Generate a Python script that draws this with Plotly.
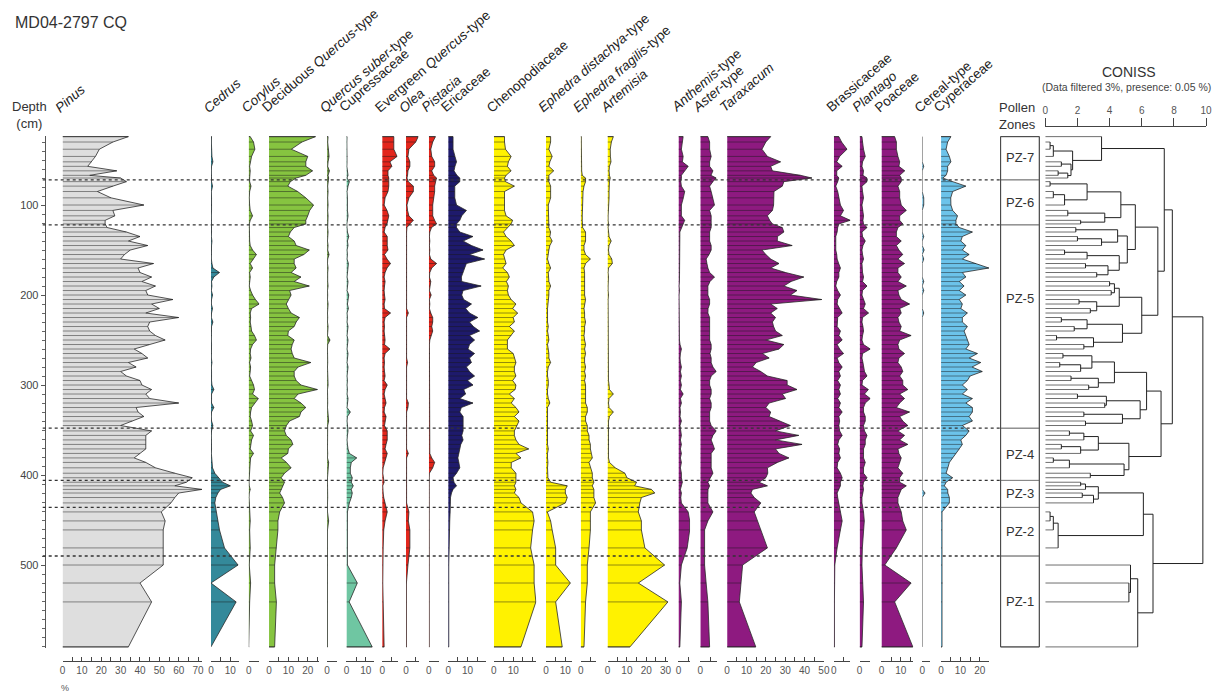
import plotly.graph_objects as go

W, H = 1223, 694
S = 1.95  # pixels per percent on every taxon axis


def fx(px):
    return px / W


def fy(py):
    return 1 - py / H


# ---------------- data ----------------
depth = [24, 30, 38, 46, 52, 57, 62, 67, 70,
         74, 79, 85, 92, 100, 106, 112, 117, 121,
         125, 130, 135, 140, 145, 150, 155, 160, 165, 170, 175, 180, 185, 190, 195,
         200, 205, 210, 215, 220, 225, 230, 235, 240, 245, 250, 255, 260, 265, 270,
         275, 280, 285, 290, 295, 300, 305, 310, 315, 320, 325, 330, 335, 340, 345,
         351, 356, 361, 366, 371, 376, 381, 386, 392, 398, 403,
         408, 412, 416, 420, 425, 431,
         441, 451, 461, 481,
         500, 520, 541, 591]

pinus = [34, 26, 19, 17, 15, 13, 28, 14, 30,
         33, 26, 18, 25, 42, 26, 27, 22, 22,
         23, 33, 40, 34, 44, 35, 32, 30, 47, 39, 40, 46, 41, 48, 43,
         44, 57, 46, 50, 43, 60, 45, 44, 45, 48, 53, 45, 37, 41, 44,
         34, 38, 30, 33, 40, 41, 46, 43, 45, 60, 38, 39, 42, 36, 30,
         46, 43, 43, 43, 43, 40, 37, 43, 48, 58, 67,
         64, 58, 72, 60, 58, 56,
         51, 53, 52, 52,
         52, 40, 46, 34]
cedrus = [0.3, 0.2, 0.3, 0.5, 1.0, 0.3, 0.2, 0.3, 0.5,
          0.3, 0.8, 0.2, 0.3, 0.5, 0.3, 0.2, 0.3, 0.2,
          0.2, 0.3, 0.2, 0.5, 0.3, 0.2, 0.3, 0.2, 0.5, 1.0, 4.4, 1.5, 0.3, 0.5, 0.2,
          0.8, 0.3, 0.2, 0.8, 0.3, 0.2, 1.0, 0.3, 0.2, 0.3, 0.2, 0.3, 0.2, 0.3, 0.2,
          0.5, 0.2, 0.3, 0.2, 0.3, 0.5, 1.5, 0.3, 0.2, 0.3, 1.5, 0.3, 0.2, 0.3, 1.0,
          0.3, 0.2, 0.3, 0.2, 0.3, 0.2, 0.3, 0.5, 0.8, 2.0, 4.0,
          6, 10, 5, 3.6, 2.5, 2,
          2.7, 3.6, 4.4, 7,
          14, 0, 13, 0]
corylus = [0.8, 2.5, 3.2, 1.5, 0.8, 0.5, 0.8, 0.5, 0.5,
           0.5, 1.2, 0.5, 0.3, 0.5, 0.8, 2.0, 0.8, 0.3,
           0.3, 0.5, 0.3, 0.5, 0.8, 2.0, 4.0, 2.5, 0.8, 2.0, 0.5, 0.8, 0.5, 0.3, 1.0,
           2.0, 3.5, 5.4, 1.5, 0.8, 1.0, 0.8, 1.2, 1.5, 3.0, 4.0, 2.0, 1.0, 0.8, 1.2,
           0.5, 1.0, 0.8, 0.5, 1.5, 2.5, 3.0, 2.0, 5.0, 3.0, 1.5, 1.0, 0.8, 1.5, 2.0,
           1.0, 2.5, 1.5, 1.0, 0.8, 2.5, 1.0, 0.8, 0.5, 0.3, 0.3,
           0.2, 0.3, 0.8, 0.3, 0.2, 0.3,
           0.3, 0.8, 0.5, 0.8,
           0.3, 1.0, 0.5, 0.3]
dec_quercus = [24, 17, 11.5, 20, 19, 19, 22.5, 19, 14,
               11, 9.7, 14.8, 19, 23, 21, 20, 19, 19,
               13, 11, 10, 13, 14, 20.8, 18, 13, 13, 14, 11.4, 16.5, 13, 20.8, 10.6,
               11.4, 10, 8.9, 10, 11.4, 15.7, 14, 13, 10, 9.7, 13, 12, 11.4, 12, 13,
               21.6, 15, 13, 13, 14, 16.5, 25, 15, 13, 16.5, 19, 16.5, 15.7, 10.6, 9,
               8, 8.9, 11.4, 12.3, 10, 9.7, 6.3, 9, 11.4, 8, 6.3,
               8, 7.2, 6.5, 5.5, 7, 8,
               5.5, 4.6, 4.6, 3.8,
               2.9, 2.9, 3.8, 2.9]
q_suber = [0.5, 0.3, 0.8, 1.0, 0.5, 0.3, 1.2, 0.5, 0.8,
           0.5, 0.3, 0.5, 0.3, 0.5, 0.3, 0.5, 0.3, 0.2,
           0.3, 0.5, 0.3, 0.2, 0.5, 0.3, 1.0, 0.3, 0.2, 0.5, 0.3, 0.2, 0.3, 0.5, 0.2,
           0.3, 0.2, 0.5, 0.3, 0.2, 0.3, 0.2, 0.5, 0.3, 0.2, 1.5, 0.3, 0.2, 0.3, 0.2,
           0.3, 0.2, 0.3, 0.2, 0.3, 0.5, 0.2, 0.3, 0.2, 0.3, 0.2, 0.3, 0.5, 0.8, 0.3,
           0.2, 0.3, 0.2, 0.3, 0.2, 0.3, 0.2, 0.8, 0.5, 0.3, 0.2,
           0.2, 0.3, 0.2, 0.2, 0.3, 0.2,
           0.2, 0.8, 0.2, 0.2,
           0.2, 0.2, 0.2, 0.2]
cupressaceae = [0.3, 0.2, 0.3, 0.5, 0.3, 0.2, 0.5, 0.8, 0.3,
                1.5, 0.8, 0.3, 0.5, 0.3, 0.5, 0.8, 0.3, 0.2,
                0.3, 0.5, 1.2, 0.5, 0.8, 0.3, 0.5, 0.3, 1.0, 0.8, 0.5, 0.3, 0.8, 0.5, 0.3,
                1.2, 0.8, 0.5, 1.0, 0.3, 0.5, 0.3, 0.8, 0.5, 0.3, 0.8, 0.5, 0.3, 0.8, 0.5,
                0.3, 0.8, 0.5, 0.3, 0.5, 0.3, 0.5, 0.3, 0.8, 0.5, 0.3, 2.0, 0.5, 0.3, 0.5,
                0.8, 0.5, 0.3, 0.5, 0.8, 1.5, 5.3, 2.5, 2.0, 2.0, 3.0,
                2.5, 3.5, 2.5, 3.0, 2.5, 1.5,
                0.5, 0.5, 0.3, 0.5,
                0.5, 5.6, 1.4, 13.3]
evergreen_q = [6, 6, 6, 7.7, 4, 5, 3, 3, 3.4,
               3.4, 3.4, 3.0, 1.5, 1.0, 2.5, 3.4, 3.0, 2.5,
               1.5, 1.0, 2.6, 2.6, 2.6, 3.0, 1.2, 2.5, 4.3, 2.5, 1.5, 1.0, 1.5, 1.2, 1.0,
               1.2, 1.5, 1.0, 1.2, 4.3, 1.5, 1.0, 1.2, 1.0, 1.2, 1.5, 1.2, 4.0, 1.5, 1.0,
               1.2, 1.0, 1.2, 1.5, 1.0, 2.6, 1.5, 1.0, 1.5, 2.0, 1.2, 1.0, 2.0, 1.5, 1.2,
               2.6, 2.6, 2.6, 2.0, 1.5, 2.6, 2.0, 1.0, 0.5, 0.3, 0.5,
               1.0, 0.3, 0.3, 0.5, 0.8, 1.5,
               2.6, 1.5, 0.8, 0.5,
               0.3, 0.3, 0.5, 1.0]
olea = [6.3, 5, 1.5, 1.0, 2, 2, 1.0, 0.8, 0.5,
        1.2, 3.8, 3.8, 1.5, 0.5, 0.8, 1.5, 3.8, 2,
        0.5, 0.3, 0.3, 0.3, 0.5, 0.3, 0.3, 0.3, 0.3, 0.3, 0.3, 0.5, 0.3, 0.3, 0.3,
        0.3, 0.3, 0.3, 0.3, 1.2, 0.3, 0.3, 0.3, 0.3, 0.3, 0.3, 0.3, 0.5, 0.3, 0.3,
        0.8, 0.3, 0.3, 0.3, 0.3, 0.3, 0.3, 0.5, 0.3, 1.2, 1.0, 0.3, 0.3, 0.3, 0.3,
        0.3, 0.3, 0.3, 0.3, 0.3, 1.2, 0.3, 0.3, 0.3, 0.3, 0.3,
        0.3, 0.2, 0.2, 0.2, 0.2, 0.3,
        1.5, 1.2, 2.0, 2.0,
        1.0, 0.2, 0.2, 0.2]
pistacia = [3.4, 2.0, 1.0, 1.5, 3.0, 3.0, 1.5, 2.5, 4.0,
            3.5, 3.0, 3.0, 2.5, 2.0, 2.0, 2.0, 3.0, 4.0,
            1.4, 0.5, 0.3, 0.5, 0.3, 0.5, 0.3, 1.0, 4.0, 1.5, 0.5, 0.3, 1.0, 0.5, 0.3,
            1.2, 0.3, 0.5, 0.3, 1.0, 2.0, 2.0, 1.5, 2.0, 1.2, 0.5, 0.3, 0.3, 0.5, 0.3,
            0.3, 0.3, 0.3, 0.5, 0.3, 0.3, 0.3, 0.3, 0.3, 0.5, 0.3, 0.3, 0.3, 0.3, 0.3,
            0.3, 0.3, 0.3, 0.3, 0.3, 0.5, 1.5, 3.0, 2.0, 0.3, 0.2,
            0.2, 0.2, 0.2, 0.2, 0.2, 0.2,
            0.2, 0.2, 0.2, 0.2,
            0.2, 0.2, 0.2, 0.2]
ericaceae = [2.5, 2.5, 2.5, 3.5, 4.3, 3.5, 3.0, 4.5, 6,
             6, 3.4, 3.4, 3.4, 4.3, 9.4, 7, 6, 4.3,
             4.3, 6, 12.8, 7.7, 12, 18, 11, 18.8, 9.4, 8.5, 7.7, 6.8, 7, 17, 7.7,
             7, 8, 12, 9, 11, 15.3, 11, 13, 16.2, 11, 13.6, 11, 10.2, 13.6, 11,
             12, 9.4, 11, 13.6, 10, 12.8, 8, 9, 6, 12.8, 6.8, 6, 7.7, 7.7, 7.7,
             7.7, 7, 7.7, 6.5, 6, 5.5, 5, 5.5, 6, 4.3, 2.5,
             3, 4.3, 2.5, 1.7, 1.2, 1.0,
             1.0, 0.8, 0.8, 0.5,
             0.3, 0.3, 0.3, 0.3]
chenopodiaceae = [5.5, 5.5, 6, 8.9, 7.5, 7, 8.9, 6.3, 5.5,
                  6, 10.6, 5.5, 5.5, 5.5, 5.5, 6.3, 9.7, 8.9,
                  7, 5, 6.3, 8.9, 10.6, 6.3, 5, 5.5, 6.3, 4.6, 7, 8, 6.5, 7.5, 7,
                  7.5, 8.9, 11.4, 9.7, 12.3, 10, 10.6, 8, 10.6, 9, 7, 7, 7, 10, 10.6,
                  11.4, 10.6, 10.6, 11.4, 9.7, 11.4, 11, 8, 10.6, 9, 11.4, 13, 10.6, 13, 12,
                  10.6, 10.6, 11.4, 13, 18, 11.4, 14, 9, 9, 11.4, 11.4,
                  11.4, 10.6, 11.4, 10.6, 13, 14,
                  20, 20.8, 20, 19,
                  20.8, 20.8, 21.7, 14]
e_distachya = [2.4, 2.4, 1.5, 3.2, 2, 1.5, 4, 1.5, 1.5,
               1.5, 2.4, 2.4, 2.4, 1.2, 1.2, 1.2, 1.2, 1.5,
               1.5, 2.4, 2, 3.2, 2, 1.5, 1.2, 0.8, 1.5, 2.4, 1.2, 1.2, 1.5, 2.4, 1.5,
               1.5, 1.2, 0.8, 0.8, 0.8, 0.8, 0.8, 1.2, 0.8, 1.2, 1.5, 0.8, 1.2, 1.5, 1.5,
               2.4, 1.2, 0.8, 0.8, 1.2, 1.2, 0.8, 0.8, 1.2, 2.0, 0.8, 0.8, 0.8, 1.0, 0.8,
               0.8, 1.0, 0.8, 0.8, 1.2, 0.8, 0.8, 1.0, 0.8, 0.8, 1.0,
               2.4, 11, 10, 10, 11, 10,
               0.7, 2.4, 3.2, 5,
               5, 12.6, 5, 8.4]
e_fragilis = [0.3, 0.3, 0.3, 0.3, 0.5, 0.5, 0.5, 0.8, 2.5,
              2.5, 1.7, 1.2, 1.0, 1.0, 0.8, 0.8, 0.8, 0.8,
              1.0, 2.5, 2.5, 2.5, 1.7, 1.7, 2.5, 5, 2.5, 1.7, 2, 2, 2, 2, 1.7,
              2, 2.5, 2, 1.7, 2, 2, 2.5, 2, 2, 1.7, 2, 2.5, 2, 2.5, 2,
              2, 2.5, 2, 2.5, 2, 2.5, 2.5, 2.5, 2.5, 2.5, 3.4, 3.4, 2.5, 2.5, 3.4,
              3.4, 4.3, 4.3, 5, 5, 5.5, 6, 4.3, 5, 6, 6,
              6.8, 6, 6.8, 6.8, 6.8, 7.7,
              5, 5, 5, 4.3,
              3.4, 3.4, 2.5, 1.7]
artemisia = [3, 2, 1.4, 1.5, 1.8, 1.0, 0.8, 1.0, 1.4,
             1.0, 0.8, 0.8, 0.8, 0.5, 0.5, 0.3, 0.3, 0.5,
             0.3, 0.5, 0.8, 1.9, 0.8, 0.5, 0.8, 2.2, 2.5, 0.5, 0.3, 0.5, 0.3, 0.3, 0.3,
             0.5, 0.3, 0.3, 0.3, 0.3, 0.3, 0.3, 0.5, 0.3, 0.3, 0.3, 0.3, 0.3, 0.5, 0.3,
             0.3, 0.3, 0.5, 0.3, 0.5, 0.8, 1.0, 3.0, 0.8, 0.5, 0.8, 3.0, 1.0, 0.5, 0.5,
             0.5, 0.5, 0.8, 0.8, 0.5, 0.5, 0.5, 1.0, 4.0, 9, 10,
             15, 14, 22.7, 24.4, 17.5, 16.7,
             15.9, 17.5, 17.5, 19.3,
             29.5, 15.9, 31.2, 11.6]
anthemis = [2.4, 2.0, 1.5, 2.4, 2.0, 5, 3, 1.5, 1.5,
            1.2, 1.5, 3.2, 2.5, 1.5, 1.5, 1.5, 3.2, 2.4,
            1.5, 0.7, 0.7, 0.7, 0.5, 0.7, 0.5, 0.5, 0.7, 0.5, 0.7, 0.5, 0.5, 0.3, 0.5,
            0.3, 0.3, 0.3, 0.5, 0.3, 0.3, 0.5, 0.3, 0.5, 0.3, 0.5, 0.8, 1.5, 1.0, 0.8,
            1.0, 1.5, 1.0, 1.5, 1.0, 1.5, 1.0, 2.4, 1.0, 1.5, 0.8, 1.0, 0.8, 1.5, 0.8,
            1.0, 1.5, 1.0, 1.5, 1.0, 1.5, 1.0, 1.5, 1.0, 1.5, 1.5,
            2.0, 1.5, 1.0, 1.5, 1.2, 1.5,
            5, 5.8, 5.8, 4.5,
            1.5, 0.7, 1.5, 0.7]
aster = [3.9, 4.8, 4.8, 5.6, 4.8, 4.8, 6.5, 5.5, 8.2,
         6.5, 4.8, 5.6, 6.5, 7.3, 4.8, 5.6, 5.6, 5.6,
         5.6, 4.8, 4.8, 4.8, 5.6, 5.6, 4.5, 3.0, 3.4, 3.9, 4.8, 7.3, 5.0, 3.9, 3.9,
         3.9, 4.8, 4.8, 4.0, 3.9, 4.8, 4.8, 4.8, 4.8, 4.8, 4.8, 5.6, 5.6, 5.0, 5.6,
         5.6, 6.5, 8.2, 5.6, 4.8, 4.8, 5.6, 5.6, 4.8, 5.6, 5.6, 4.8, 4.8, 4.8, 5.6,
         8.2, 6.5, 5.6, 6.5, 7.3, 5.6, 5.6, 5.6, 5.6, 6.5, 5.0,
         3.9, 4.8, 4.0, 3.9, 3.9, 3.9,
         6.5, 3.9, 2.2, 2.2,
         2.2, 3.0, 3.9, 4.8]
taraxacum = [22.5, 20, 18, 20.8, 27.6, 22.5, 23.4, 37.9, 43.8,
             29.3, 28.5, 24.2, 24, 24, 23.4, 20.8, 22, 23.4,
             28.5, 29.3, 26, 25.9, 33.6, 18, 20, 22.5, 26.8, 22.5, 30.2, 39.6, 33, 29.3, 36.1,
             32.7, 48.9, 22.5, 25.9, 22.5, 25, 23.4, 24, 25, 28.5, 20, 29.3, 26.8, 18.2, 21.7,
             15, 13.1, 17.4, 20.8, 31, 31, 36.1, 28.5, 30.2, 21.7, 20, 22.5, 21.7, 27, 32.7,
             25, 37, 25, 38.7, 25, 26.8, 31.9, 26, 20.8, 21, 20,
             16.5, 20.8, 13.1, 12.3, 14, 17.4,
             14, 15.7, 17.4, 20.8,
             8, 7.2, 6.3, 14.8]
brassicaceae = [2.6, 4, 6.8, 3, 1.5, 4.3, 1.5, 1.5, 2.6,
                2.0, 1.0, 2.0, 2.6, 3.4, 5, 3.4, 8.5, 2.6,
                2.0, 1.7, 1.0, 1.0, 1.0, 1.0, 1.5, 1.7, 2.5, 3.4, 2.6, 2.6, 1.5, 1.0, 2.0,
                3.4, 2.0, 1.7, 3.0, 4.3, 2.0, 1.7, 1.7, 3.4, 2.6, 4.3, 1.7, 3.0, 5.0, 1.7,
                2.6, 4.3, 2.6, 3.4, 2.0, 3.4, 2.6, 3.4, 2.0, 3.4, 2.6, 4.3, 2.6, 3.0, 2.6,
                3.0, 4.3, 2.6, 2.0, 3.0, 2.6, 3.4, 2.0, 1.7, 3.4, 4.3,
                3.4, 3.4, 2.6, 1.7, 2.0, 2.6,
                3.4, 4.3, 3.4, 1.7,
                0.5, 0.3, 0.3, 0.3]
plantago = [1.2, 1.5, 2.0, 2.9, 1.5, 1.2, 2.0, 1.7, 3.8,
            3.8, 1.2, 1.5, 2.0, 1.2, 1.7, 2.0, 1.7, 2.0,
            3.8, 1.2, 1.5, 2.9, 1.7, 1.2, 1.5, 2.0, 1.2, 1.2, 1.5, 2.0, 1.5, 3.8, 1.5,
            1.2, 2.0, 2.9, 2.0, 4.6, 1.5, 1.2, 1.7, 2.0, 1.5, 1.2, 2.0, 5.5, 1.5, 1.2,
            1.7, 2.0, 2.5, 3.8, 1.5, 1.2, 4.5, 2.5, 5.5, 2.9, 2.0, 2.0, 2.9, 2.9, 2.0,
            2.5, 3.8, 2.9, 2.9, 2.0, 2.0, 2.0, 2.9, 2.0, 2.0, 3.8,
            2.0, 1.7, 2.0, 1.5, 1.2, 1.2,
            2.0, 2.4, 2.0, 1.4,
            1.2, 1.7, 2.0, 1.2]
poaceae = [6.8, 7.7, 7.7, 8.5, 9.4, 9, 12, 9.4, 10.2,
           10.2, 8.5, 9.4, 9.4, 10.2, 12.8, 9.4, 9.4, 11,
           8.5, 7.7, 7.7, 10.2, 7.7, 9, 11, 8.5, 11.9, 8.5, 8.5, 10.2, 8.5, 12.8, 8.5,
           9, 10.2, 14.5, 9.4, 10.2, 8.5, 9, 10.2, 9.4, 15.3, 9.4, 8.5, 9, 11.9, 9,
           8.5, 10.2, 11, 9.4, 11, 11, 13.6, 9.4, 11.9, 9.4, 7.7, 14.5, 9.4, 11, 13.6,
           8.5, 11.9, 9.4, 13.6, 8.5, 9, 10.2, 9.4, 8.5, 11, 9.4,
           9.4, 12.8, 10.2, 9.4, 8.5, 8.5,
           10.2, 11, 12.8, 7.7,
           1.7, 15.3, 6.8, 16.2]
cereal = [0, 0, 0, 0, 0, 0.8, 0, 0, 0,
          0, 0, 0, 0.8, 0.8, 0, 0, 0, 0,
          0, 0, 0.8, 0, 0, 1.0, 0, 0.8, 0, 0, 0, 0, 0.8, 0, 0.8,
          0, 0, 0, 0, 0.8, 0, 0, 0, 0, 0, 0, 0, 0, 0, 0,
          0, 0, 0, 0, 0, 0, 0, 0, 0, 0, 0, 0, 0, 0, 0,
          0, 0, 0, 0, 0, 0, 0, 0, 0, 0, 0,
          0, 0, 0, 1.5, 0, 0,
          0, 0, 0, 0,
          0, 0, 0, 0]
cyperaceae = [5.1, 3.4, 2.6, 4.3, 5.1, 3.4, 3.4, 2.6, 0.9,
              6, 12.8, 6, 5, 5.1, 6, 8.5, 7.7, 7.7,
              9.4, 16.2, 11, 10.2, 12.8, 11, 14.5, 11, 18, 24.7, 11, 12.8, 9.4, 11.9, 9.4,
              12.8, 9.4, 11, 10.2, 13.6, 11, 11, 13.6, 11.9, 12.8, 13.6, 14.5, 12.8, 18.8, 14.5,
              20.5, 16, 21.3, 15, 13.6, 11, 13.6, 11, 16.2, 12.8, 16.2, 16.2, 14.5, 16.2, 11,
              14.5, 12.8, 10.2, 11, 9.4, 7.7, 6, 4.3, 3.5, 2.6, 6,
              2.6, 1.7, 3.4, 3.5, 4.3, 4.3,
              0.5, 0.5, 0.5, 0.5,
              0.5, 0.8, 0.5, 0.5]

taxon_names = ["<i>Pinus</i>", "<i>Cedrus</i>", "<i>Corylus</i>",
               "Deciduous <i>Quercus</i>-type", "<i>Quercus suber</i>-type",
               "Cupressaceae", "Evergreen <i>Quercus</i>-type", "<i>Olea</i>",
               "<i>Pistacia</i>", "Ericaceae", "Chenopodiaceae",
               "<i>Ephedra distachya</i>-type", "<i>Ephedra fragilis</i>-type",
               "<i>Artemisia</i>", "<i>Anthemis</i>-type", "<i>Aster</i>-type",
               "<i>Taraxacum</i>", "Brassicaceae", "<i>Plantago</i>", "Poaceae",
               "Cereal-type", "Cyperaceae"]
taxon_values = [pinus, cedrus, corylus, dec_quercus, q_suber, cupressaceae,
                evergreen_q, olea, pistacia, ericaceae, chenopodiaceae,
                e_distachya, e_fragilis, artemisia, anthemis, aster, taraxacum,
                brassicaceae, plantago, poaceae, cereal, cyperaceae]

zone_names = ["PZ-7", "PZ-6", "PZ-5", "PZ-4", "PZ-3", "PZ-2", "PZ-1"]
zone_bounds = [24, 72, 122, 348, 406, 436, 490, 591]
zone_label_depth = [47, 97, 204, 377, 421, 463, 540]

# CONISS (stratigraphically constrained) tree: (dispersion, left, right); ints = sample index
coniss_tree = (9.8,
    (7.9,
        (7.4,
            (3.5, 0, (1.7, (0.5, (0.3, 1, 2), 3), (1.6, (1.0, 4, 5), (1.4, (0.8, 6, 7), 8)))),
            (7.0,
                (5.6,
                    (4.7, (2.6, (0.3, 9, 10), (1.2, (0.5, 11, 12), 13)),
                          (3.7, (1.4, 14, 15), (2.2, 16, 17))),
                    (5.1, (4.5, (1.9, 18, 19), (3.5, (2.0, 20, 21), 22)),
                          (4.6, (2.6, (1.2, 23, 24), 25), (3.9, (2.5, 26, 27), (3.2, 28, 29))))),
                (6.0,
                    (4.6, (4.3, (4.0, 30, 31), (4.1, 32, 33)), (3.2, (2.1, 34, 35), (2.8, 36, 37))),
                    (4.8, (2.6, (1.0, 38, 39), (1.8, 40, 41)), (3.0, (0.7, 42, 43), (2.4, 44, 45)))))),
        (7.2,
            (6.3,
                (4.3, (2.9, (1.1, 46, 47), (2.2, (0.9, 48, 49), 50)), (3.3, (1.6, 51, 52), (2.7, 53, 54))),
                (5.9, (3.8, (2.0, 55, 56), (3.7, 57, 58)), (4.8, (2.4, 59, 60), (2.5, 61, 62)))),
            (5.2, (3.3, (2.4, (1.5, 63, 64), 65), (2.2, (1.0, 66, 67), 68)),
                  (4.9, (1.5, (0.5, 69, 70), 71), (2.8, 72, 73))))),
    (6.7,
        (6.1,
            (3.3, (2.5, (2.2, 74, 75), 76), (3.0, (2.3, 77, 78), 79)),
            (0.8, (0.5, (0.3, 80, 81), 82), 83)),
        (5.75, (5.3, 84, (5.2, 85, 86)), 87)))
coniss_ticks = [0, 2, 4, 6, 8, 10]

# ---------------- layout / style ----------------
panel_left_px = [60, 209.5, 247.5, 268, 326.5, 346, 382, 406, 429, 448.5, 494.5,
                 547, 582, 609, 680.5, 702.5, 729.5, 837, 863, 885, 926, 945]
panel_max = [72, 14.5, 5.5, 26, 5, 14, 8, 6.5, 5, 19.5, 22, 13.5, 8, 31.5, 6, 8.5,
             50, 8.5, 5.5, 16.5, 4, 25]
GREY, TEAL, GREEN, DKGREEN, MINT = "#dedede", "#34899a", "#86c440", "#6b9a3c", "#6fc6a2"
RED, NAVY, YEL, PURP, BLUE = "#e3261c", "#1e1a6c", "#fff200", "#8e1a80", "#6cc3ea"
panel_colors = [GREY, TEAL, GREEN, GREEN, DKGREEN, MINT, RED, RED, RED, NAVY, YEL,
                YEL, YEL, YEL, PURP, PURP, PURP, PURP, PURP, PURP, BLUE, BLUE]
hide_labels = {10: [20]}

FONT = "Arial, Liberation Sans, sans-serif"
Y_TOP_PX, Y_BOT_PX = 136, 648
Y_RANGE = [592.2, 23.3]

fig = go.Figure()
layout = dict(width=W, height=H, autosize=False,
              margin=dict(l=0, r=0, t=0, b=0, pad=0),
              paper_bgcolor="white", plot_bgcolor="rgba(0,0,0,0)",
              showlegend=False, font=dict(family=FONT, color="#333"),
              hovermode=False)

layout["yaxis"] = dict(domain=[fy(Y_BOT_PX), fy(Y_TOP_PX)], range=Y_RANGE,
                       anchor="free", position=fx(42), side="left",
                       showline=True, linecolor="#555", linewidth=1,
                       ticks="outside", ticklen=4, tickcolor="#555",
                       tick0=0, dtick=100, showgrid=False, zeroline=False,
                       minor=dict(ticks="outside", dtick=10, ticklen=3,
                                  tickcolor="#666", showgrid=False),
                       tickfont=dict(size=11, color="#444"))

annotations = []
shapes = []

for i, (name, vals, b, r, col) in enumerate(zip(taxon_names, taxon_values,
                                              panel_left_px, panel_max, panel_colors)):
    assert len(vals) == len(depth), (name, len(vals))
    xa = "x" if i == 0 else f"x{i + 1}"
    key = "xaxis" if i == 0 else f"xaxis{i + 1}"
    fig.add_trace(go.Scatter(x=[0] + vals + [0], y=[depth[0]] + depth + [depth[-1]],
                             mode="lines", fill="toself", fillcolor=col,
                             line=dict(color="#2a2a2a", width=0.8),
                             xaxis=xa, yaxis="y", hoverinfo="skip"))
    bx, by = [], []
    for v, d in zip(vals, depth):
        bx += [0, v, None]
        by += [d, d, None]
    fig.add_trace(go.Scatter(x=bx, y=by, mode="lines",
                             line=dict(color="rgba(25,25,25,0.8)", width=0.6),
                             xaxis=xa, yaxis="y", hoverinfo="skip"))
    tv = list(range(0, int(r) + 1, 5))
    tt = [str(t) if (t % 10 == 0 and t not in hide_labels.get(i, [])) else "" for t in tv]
    layout[key] = dict(domain=[fx(b), fx(b + r * S)], range=[0, r],
                       anchor="free", position=fy(661), side="bottom",
                       showline=True, linecolor="#444", linewidth=1,
                       ticks="inside", ticklen=4, tickcolor="#444",
                       tickmode="array", tickvals=tv, ticktext=tt,
                       showgrid=False, zeroline=False,
                       tickfont=dict(size=10, color="#555"))
    annotations.append(dict(text=name, x=fx(b - 13), y=fy(118), xref="paper", yref="paper",
                            xanchor="left", yanchor="bottom", textangle=-41,
                            showarrow=False, font=dict(size=13.5, color="#222")))

# ---- CONISS dendrogram ----
n = len(taxon_names)
dkey = f"xaxis{n + 1}"
dxa = f"x{n + 1}"
layout[dkey] = dict(domain=[fx(1050), fx(1212)], range=[0, 10], side="top",
                    anchor="free", position=fy(126), showline=True,
                    linecolor="#444", linewidth=1, ticks="outside", ticklen=8,
                    tickcolor="#444", tickmode="array", tickvals=coniss_ticks,
                    showgrid=False, zeroline=False,
                    tickfont=dict(size=10, color="#555"))

int_x, int_y, leaf_x, leaf_y = [], [], [], []


def walk(node):
    if isinstance(node, int):
        return 0.0, depth[node], True
    h, a, b = node
    res = []
    for child in (a, b):
        cx, cy, is_leaf = walk(child)
        tx, ty = (leaf_x, leaf_y) if is_leaf else (int_x, int_y)
        tx += [cx, h, None]
        ty += [cy, cy, None]
        res.append(cy)
    int_x.extend([h, h, None])
    int_y.extend([res[0], res[1], None])
    return h, (res[0] + res[1]) / 2, False


walk(coniss_tree)
fig.add_trace(go.Scatter(x=leaf_x, y=leaf_y, mode="lines",
                         line=dict(color="#6e6e6e", width=1),
                         xaxis=dxa, yaxis="y", hoverinfo="skip"))
fig.add_trace(go.Scatter(x=int_x, y=int_y, mode="lines",
                         line=dict(color="#222", width=1),
                         xaxis=dxa, yaxis="y", hoverinfo="skip"))

# ---- zones ----
ZL, ZR = 1005, 1044
for top, bot in zip(zone_bounds[:-1], zone_bounds[1:]):
    shapes.append(dict(type="rect", xref="paper", yref="y", x0=fx(ZL), x1=fx(ZR),
                       y0=top, y1=bot, line=dict(color="#888", width=1)))
shapes.append(dict(type="rect", xref="paper", yref="y", x0=fx(ZL), x1=fx(ZR),
                   y0=zone_bounds[0], y1=zone_bounds[-1], line=dict(color="#444", width=1)))
for bnd in zone_bounds[1:-1]:
    shapes.append(dict(type="line", xref="paper", yref="y", x0=fx(40), x1=fx(ZL),
                       y0=bnd, y1=bnd, line=dict(color="#333", width=1.3, dash="dot")))
for zname, zd in zip(zone_names, zone_label_depth):
    annotations.append(dict(text=zname, x=fx((ZL + ZR) / 2), y=zd, xref="paper", yref="y",
                            xanchor="center", yanchor="middle", showarrow=False,
                            font=dict(size=13, color="#333")))

# ---- titles ----
annotations += [
    dict(text="MD04-2797 CQ", x=fx(10), y=fy(22), xref="paper", yref="paper",
         xanchor="left", yanchor="middle", showarrow=False, font=dict(size=16, color="#333")),
    dict(text="Depth<br>(cm)", x=fx(27), y=fy(115), xref="paper", yref="paper",
         xanchor="center", yanchor="middle", showarrow=False, align="center",
         font=dict(size=13, color="#333")),
    dict(text="%", x=fx(62), y=fy(688), xref="paper", yref="paper",
         xanchor="center", yanchor="middle", showarrow=False, font=dict(size=9, color="#555")),
    dict(text="CONISS", x=fx(1134), y=fy(72), xref="paper", yref="paper",
         xanchor="center", yanchor="middle", showarrow=False, font=dict(size=14, color="#333")),
    dict(text="(Data filtered 3%, presence: 0.05 %)", x=fx(1132), y=fy(87),
         xref="paper", yref="paper", xanchor="center", yanchor="middle",
         showarrow=False, font=dict(size=10.5, color="#444")),
    dict(text="Pollen<br>Zones", x=fx(1001), y=fy(116), xref="paper", yref="paper",
         xanchor="left", yanchor="middle", align="left", showarrow=False,
         font=dict(size=13, color="#333")),
]

layout["annotations"] = annotations
layout["shapes"] = shapes
fig.update_layout(**layout)
fig.write_html("out.html", config={"displayModeBar": False, "staticPlot": True},
               post_script="document.body.style.margin='0px';document.body.style.padding='0px';")
